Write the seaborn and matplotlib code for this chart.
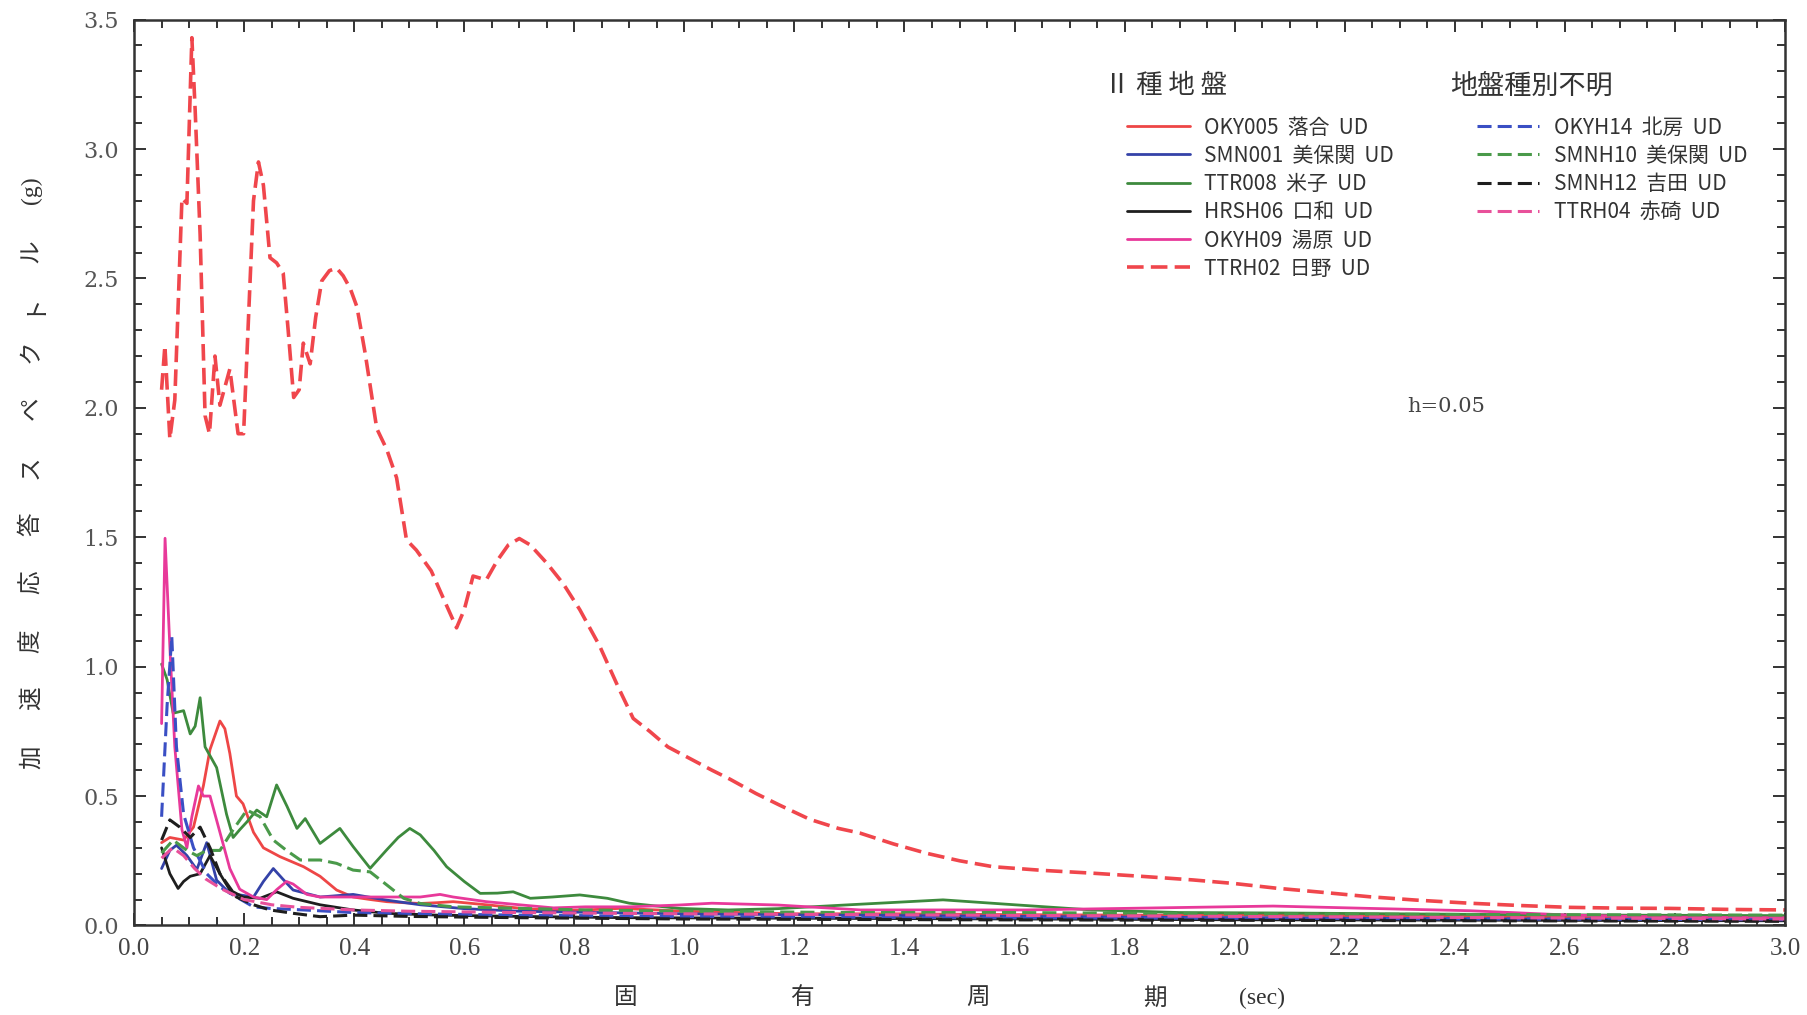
import numpy as np
import pandas as pd
import matplotlib
matplotlib.use("Agg")
import matplotlib.pyplot as plt
import seaborn as sns
from matplotlib.ticker import MultipleLocator

# ---- spectra (period in sec, acceleration response in g), damping h=0.05 ----
oky005_x = [0.05, 0.065, 0.09, 0.108, 0.126, 0.138, 0.156, 0.165, 0.174, 0.186, 0.198, 0.217, 0.235,
            0.265, 0.308, 0.338, 0.368, 0.398, 0.43, 0.459, 0.49, 0.52, 0.55, 0.58, 0.61, 0.64, 0.70,
            0.762, 0.82, 0.883, 0.95, 1.0, 1.1, 1.2, 1.4, 1.6, 1.8, 2.0, 2.2, 2.4, 2.6, 2.8, 3.0]
oky005_y = [0.32, 0.34, 0.33, 0.38, 0.54, 0.68, 0.79, 0.76, 0.665, 0.50, 0.47, 0.36, 0.30,
            0.266, 0.227, 0.19, 0.137, 0.11, 0.10, 0.092, 0.088, 0.085, 0.088, 0.092, 0.086, 0.08, 0.067,
            0.058, 0.06, 0.066, 0.06, 0.055, 0.05, 0.045, 0.045, 0.042, 0.04, 0.04, 0.038, 0.035, 0.032, 0.03, 0.028]

smn001_x = [0.05, 0.065, 0.077, 0.096, 0.114, 0.132, 0.15, 0.174, 0.217, 0.235, 0.253, 0.27, 0.289,
            0.338, 0.398, 0.459, 0.52, 0.6, 0.7, 0.85, 1.0, 1.3, 1.6, 2.0, 2.5, 3.0]
smn001_y = [0.22, 0.29, 0.31, 0.27, 0.216, 0.32, 0.175, 0.124, 0.11, 0.17, 0.22, 0.18, 0.137,
            0.11, 0.12, 0.098, 0.08, 0.065, 0.055, 0.05, 0.045, 0.04, 0.035, 0.03, 0.025, 0.022]

ttr008_x = [0.05, 0.06, 0.071, 0.09, 0.102, 0.111, 0.12, 0.129, 0.15, 0.168, 0.18, 0.192, 0.205,
            0.223, 0.241, 0.259, 0.278, 0.296, 0.311, 0.338, 0.374, 0.398, 0.429, 0.459, 0.48, 0.501,
            0.52, 0.545, 0.568, 0.6, 0.629, 0.66, 0.689, 0.72, 0.76, 0.81, 0.86, 0.9, 0.95, 0.99, 1.08,
            1.17, 1.3, 1.47, 1.6, 1.74, 1.9, 2.1, 2.3, 2.5, 2.7, 3.0]
ttr008_y = [1.01, 0.95, 0.82, 0.83, 0.74, 0.77, 0.88, 0.69, 0.61, 0.43, 0.34, 0.37, 0.40,
            0.446, 0.42, 0.543, 0.46, 0.375, 0.413, 0.317, 0.375, 0.305, 0.221, 0.292, 0.34, 0.375,
            0.35, 0.29, 0.227, 0.17, 0.124, 0.125, 0.13, 0.105, 0.11, 0.118, 0.105, 0.086, 0.075, 0.066, 0.06,
            0.065, 0.08, 0.099, 0.08, 0.06, 0.05, 0.048, 0.045, 0.042, 0.04, 0.038]

hrsh06_x = [0.05, 0.065, 0.08, 0.09, 0.102, 0.12, 0.138, 0.156, 0.174, 0.198, 0.229, 0.259, 0.289,
            0.338, 0.398, 0.459, 0.55, 0.7, 0.9, 1.2, 1.6, 2.0, 2.5, 3.0]
hrsh06_y = [0.30, 0.20, 0.143, 0.17, 0.19, 0.20, 0.27, 0.20, 0.137, 0.11, 0.105, 0.13, 0.105,
            0.08, 0.06, 0.047, 0.04, 0.035, 0.03, 0.028, 0.025, 0.022, 0.02, 0.018]

okyh09_x = [0.05, 0.0563, 0.065, 0.074, 0.087, 0.096, 0.105, 0.117, 0.126, 0.138, 0.156, 0.174, 0.192,
            0.217, 0.241, 0.259, 0.277, 0.289, 0.314, 0.338, 0.4, 0.46, 0.52, 0.556, 0.58, 0.64, 0.70,
            0.762, 0.82, 0.9, 0.99, 1.05, 1.17, 1.32, 1.62, 1.8, 2.07, 2.245, 2.427, 2.609, 2.8, 3.0]
okyh09_y = [0.78, 1.496, 1.077, 0.69, 0.37, 0.30, 0.42, 0.539, 0.50, 0.50, 0.36, 0.22, 0.14,
            0.11, 0.10, 0.138, 0.17, 0.16, 0.12, 0.11, 0.11, 0.11, 0.11, 0.12, 0.11, 0.092, 0.08,
            0.068, 0.072, 0.072, 0.079, 0.086, 0.079, 0.06, 0.06, 0.066, 0.075, 0.066, 0.057, 0.04, 0.032, 0.03]

ttrh02_x = [0.05, 0.056, 0.065, 0.074, 0.087, 0.096, 0.105, 0.111, 0.12, 0.129, 0.137, 0.147, 0.156,
            0.165, 0.174, 0.189, 0.199, 0.208, 0.217, 0.226, 0.235, 0.247, 0.259, 0.271, 0.28, 0.29,
            0.30, 0.3075, 0.32, 0.33, 0.341, 0.355, 0.368, 0.38, 0.393, 0.405, 0.42, 0.441, 0.459, 0.477,
            0.495, 0.513, 0.54, 0.565, 0.586, 0.60, 0.616, 0.64, 0.66, 0.68, 0.70, 0.72, 0.75, 0.78, 0.81,
            0.846, 0.88, 0.907, 0.937, 0.97, 1.01, 1.05, 1.083, 1.13, 1.173, 1.228, 1.28, 1.319, 1.38,
            1.44, 1.5, 1.561, 1.65, 1.742, 1.83, 1.924, 2.0, 2.076, 2.16, 2.245, 2.33, 2.427, 2.52,
            2.609, 2.7, 2.79, 2.9, 3.0]
ttrh02_y = [2.07, 2.24, 1.88, 2.03, 2.81, 2.79, 3.43, 3.15, 2.67, 1.97, 1.90, 2.20, 2.01,
            2.08, 2.15, 1.90, 1.90, 2.35, 2.80, 2.95, 2.86, 2.58, 2.56, 2.52, 2.30, 2.04,
            2.07, 2.25, 2.17, 2.35, 2.49, 2.53, 2.54, 2.51, 2.46, 2.39, 2.21, 1.92, 1.84, 1.73,
            1.49, 1.45, 1.37, 1.25, 1.15, 1.22, 1.35, 1.335, 1.41, 1.47, 1.495, 1.47, 1.40, 1.32, 1.22,
            1.08, 0.92, 0.80, 0.75, 0.69, 0.645, 0.60, 0.565, 0.51, 0.465, 0.41, 0.375, 0.357, 0.315,
            0.279, 0.25, 0.227, 0.213, 0.202, 0.19, 0.176, 0.162, 0.144, 0.128, 0.111, 0.098, 0.086, 0.077,
            0.070, 0.067, 0.066, 0.062, 0.06]

okyh14_x = [0.05, 0.06, 0.0685, 0.077, 0.09, 0.108, 0.132, 0.156, 0.186, 0.217, 0.247, 0.308, 0.398,
            0.52, 0.7, 1.0, 1.5, 2.0, 2.5, 3.0]
okyh14_y = [0.42, 0.85, 1.117, 0.69, 0.43, 0.30, 0.20, 0.149, 0.11, 0.072, 0.066, 0.06, 0.05,
            0.045, 0.04, 0.035, 0.03, 0.028, 0.025, 0.022]

smnh10_x = [0.05, 0.071, 0.096, 0.114, 0.132, 0.156, 0.18, 0.205, 0.229, 0.253, 0.277, 0.302, 0.338,
            0.368, 0.398, 0.429, 0.459, 0.49, 0.52, 0.58, 0.7, 0.82, 1.0, 1.3, 1.6, 2.0, 2.5, 3.0]
smnh10_y = [0.28, 0.33, 0.29, 0.27, 0.29, 0.29, 0.37, 0.446, 0.42, 0.33, 0.29, 0.253, 0.253,
            0.24, 0.214, 0.207, 0.157, 0.105, 0.085, 0.072, 0.066, 0.06, 0.055, 0.05, 0.05, 0.045, 0.042, 0.04]

smnh12_x = [0.05, 0.065, 0.083, 0.102, 0.12, 0.138, 0.156, 0.186, 0.217, 0.247, 0.289, 0.338, 0.398,
            0.5, 0.7, 1.0, 1.5, 2.0, 2.5, 3.0]
smnh12_y = [0.33, 0.408, 0.38, 0.34, 0.38, 0.30, 0.20, 0.11, 0.08, 0.06, 0.047, 0.034, 0.04,
            0.035, 0.03, 0.025, 0.022, 0.02, 0.018, 0.016]

ttrh04_x = [0.05, 0.07, 0.09, 0.11, 0.13, 0.16, 0.2, 0.25, 0.3, 0.4, 0.5, 0.7, 1.0, 1.5, 2.0, 2.5, 3.0]
ttrh04_y = [0.26, 0.30, 0.27, 0.22, 0.18, 0.14, 0.10, 0.08, 0.07, 0.06, 0.055, 0.05, 0.045, 0.04, 0.035, 0.03, 0.025]

type2_labels = ["OKY005  落合  UD", "SMN001  美保関  UD", "TTR008  米子  UD",
                "HRSH06  口和  UD", "OKYH09  湯原  UD", "TTRH02  日野  UD"]
unknown_labels = ["OKYH14  北房  UD", "SMNH10  美保関  UD", "SMNH12  吉田  UD", "TTRH04  赤碕  UD"]

x_ticks = [0.0, 0.2, 0.4, 0.6, 0.8, 1.0, 1.2, 1.4, 1.6, 1.8, 2.0, 2.2, 2.4, 2.6, 2.8, 3.0]
y_ticks = [0.0, 0.5, 1.0, 1.5, 2.0, 2.5, 3.0, 3.5]

# ---- style ----
sns.set_theme(style="white")
plt.rcParams["font.family"] = ["Noto Sans CJK JP", "DejaVu Sans"]
TXT = "#333333"

fig = plt.figure(figsize=(18.07, 10.15), dpi=100)
ax = fig.add_axes([0.0742, 0.0882, 0.9136, 0.8925])

DASH = (0, (4.6, 2.0))
series = [
    (oky005_x, oky005_y, "#ee4646", "-", 2.0),
    (smn001_x, smn001_y, "#3442a8", "-", 2.0),
    (ttr008_x, ttr008_y, "#3d8a3d", "-", 2.0),
    (hrsh06_x, hrsh06_y, "#1e1e1e", "-", 2.0),
    (okyh09_x, okyh09_y, "#e8399a", "-", 2.0),
    (ttrh02_x, ttrh02_y, "#f0464c", DASH, 2.6),
    (okyh14_x, okyh14_y, "#3a4fc4", DASH, 2.2),
    (smnh10_x, smnh10_y, "#4a9a4a", DASH, 2.2),
    (smnh12_x, smnh12_y, "#1e1e1e", DASH, 2.2),
    (ttrh04_x, ttrh04_y, "#e8509a", DASH, 2.2),
]
for xs, ys, col, ls, lw in series:
    df = pd.DataFrame({"period": xs, "sa": ys})
    sns.lineplot(data=df, x="period", y="sa", ax=ax, color=col, linestyle=ls,
                 linewidth=lw, estimator=None, sort=False, legend=False)

ax.set_xlim(0, 3.0)
ax.set_ylim(0, 3.5)
ax.set_xlabel("")
ax.set_ylabel("")

for sp in ax.spines.values():
    sp.set_visible(True)
    sp.set_color(TXT)
    sp.set_linewidth(1.8)

ax.set_xticks(x_ticks)
ax.set_xticklabels([f"{t:.1f}" for t in x_ticks], fontfamily="Liberation Serif",
                   fontsize=18, color="#444444")
ax.set_yticks(y_ticks)
ax.set_yticklabels([f"{t:.1f}" for t in y_ticks], fontfamily="DejaVu Serif",
                   fontsize=16, color="#555555")
ax.xaxis.set_minor_locator(MultipleLocator(0.05))
ax.yaxis.set_minor_locator(MultipleLocator(0.1))
ax.tick_params(which="both", direction="in", top=True, right=True, bottom=True, left=True,
               color=TXT, width=1.4)
ax.tick_params(which="major", length=8.6)
ax.tick_params(which="minor", length=5.8)
ax.tick_params(axis="x", which="major", pad=9)
ax.tick_params(axis="y", which="major", pad=11)

# ---- legends (two groups) ----
lines = ax.get_lines()
leg_kw = dict(loc="upper left", frameon=False, fontsize=15, handlelength=3.0,
              handletextpad=0.7, labelspacing=0.3, borderpad=0, borderaxespad=0,
              labelcolor=TXT)
leg1 = ax.legend(handles=lines[0:6], labels=type2_labels, bbox_to_anchor=(0.6015, 0.893), **leg_kw)
ax.add_artist(leg1)
leg2 = ax.legend(handles=lines[6:10], labels=unknown_labels, bbox_to_anchor=(0.8134, 0.893), **leg_kw)

ax.text(0.5875, 0.927, "Ⅱ 種 地 盤", transform=ax.transAxes, fontsize=19, color=TXT,
        ha="left", va="center")
ax.text(0.797, 0.927, "地盤種別不明", transform=ax.transAxes, fontsize=19.5, color=TXT,
        ha="left", va="center")
ax.text(0.7947, 0.5724, "h=0.05", transform=ax.transAxes, fontsize=15, color="#444444",
        fontfamily="DejaVu Serif", ha="center", va="center")

# ---- spaced axis titles ----
ylab_chars = ["加", "速", "度", "応", "答", "ス", "ペ", "ク", "ト", "ル", "(g)"]
ylab_pos = [757, 698, 641, 582, 524, 467, 408, 351, 303, 251, 190]
for ch, py in zip(ylab_chars, ylab_pos):
    fig.text(31 / 1807, 1 - py / 1015, ch, rotation=90, fontsize=17, color=TXT,
             ha="center", va="center",
             fontfamily="Liberation Serif" if ch == "(g)" else None)

xlab_chars = ["固", "有", "周", "期", "(sec)"]
xlab_pos = [626, 802, 978, 1155, 1262]
for ch, px in zip(xlab_chars, xlab_pos):
    fig.text(px / 1807, 1 - 998 / 1015, ch, fontsize=17, color=TXT, ha="center", va="center",
             fontfamily="Liberation Serif" if ch == "(sec)" else None)

fig.savefig("out.png", dpi=100, facecolor="white")
